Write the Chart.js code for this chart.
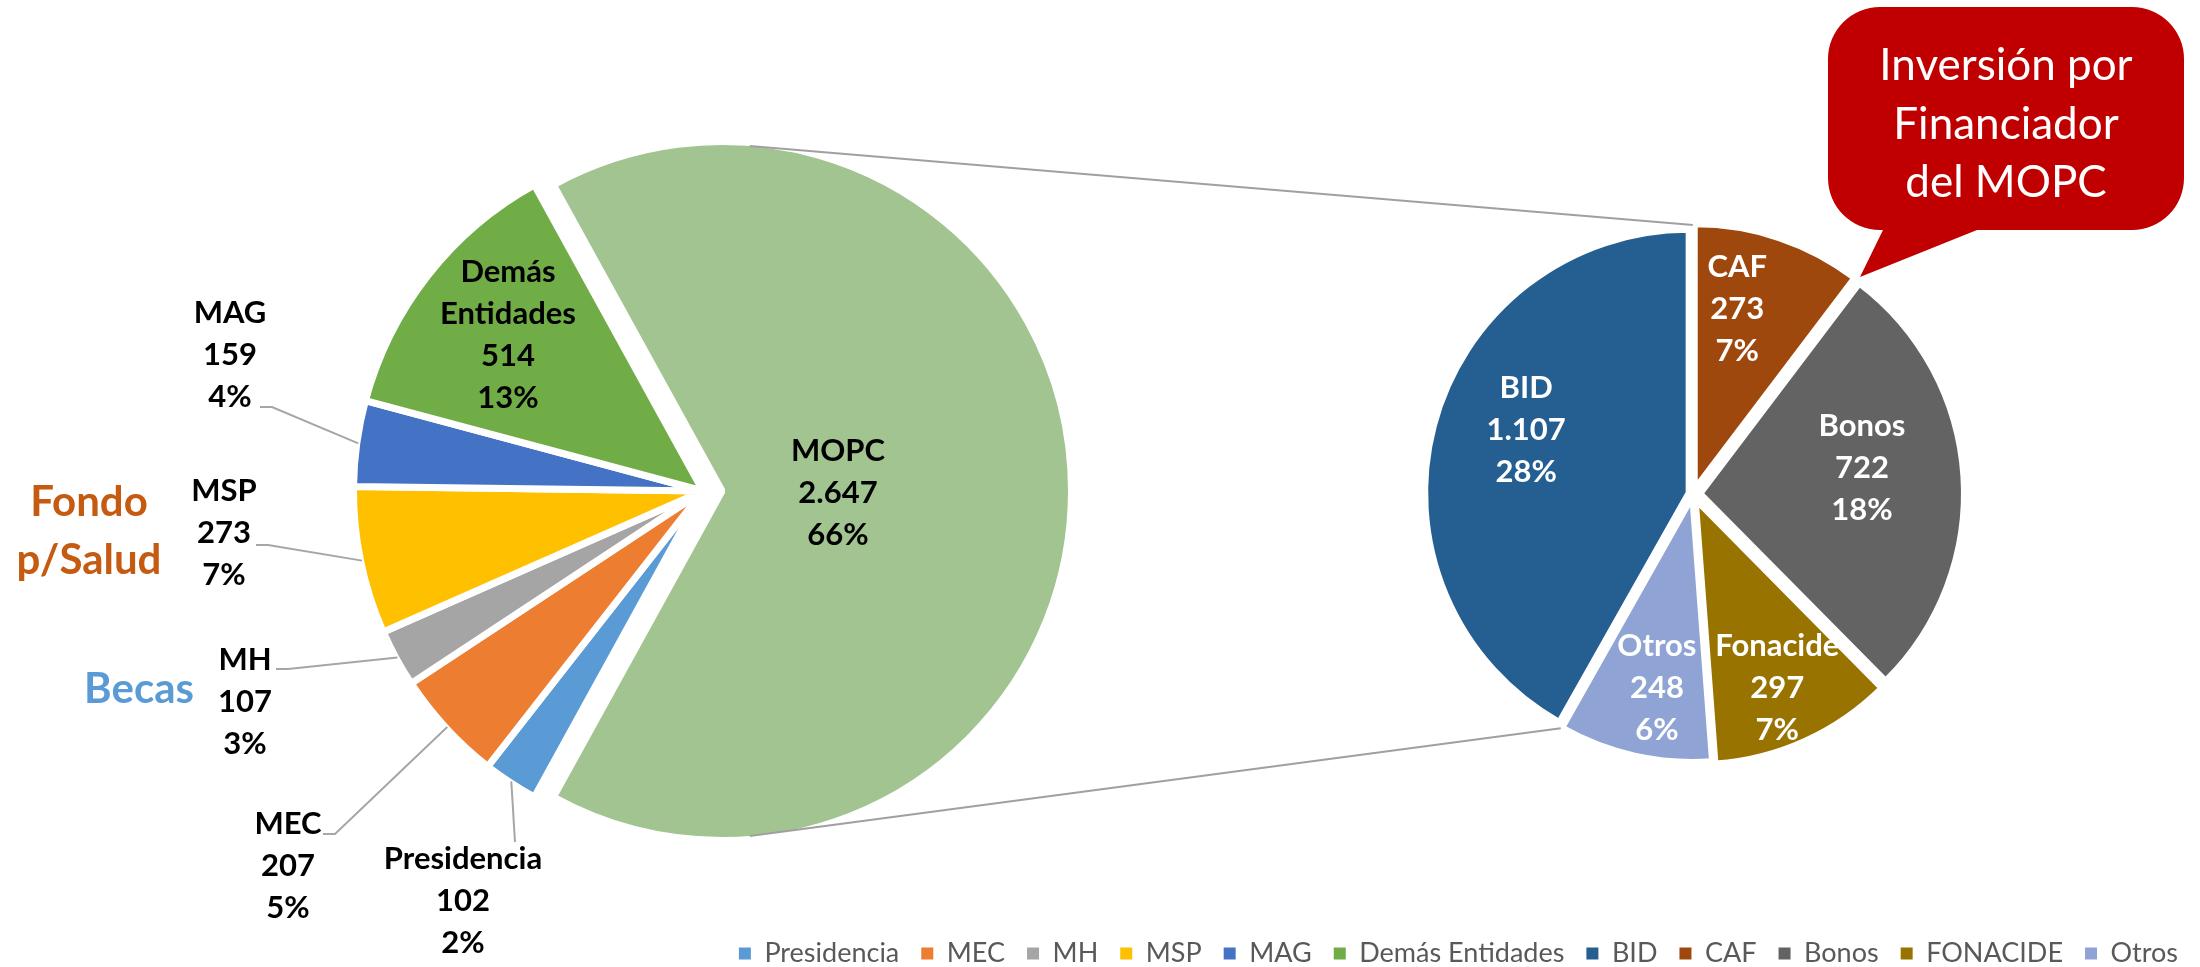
<!DOCTYPE html>
<html>
<head>
<meta charset="utf-8">
<script src="https://cdn.jsdelivr.net/npm/chart.js@4.4.0/dist/chart.umd.min.js"></script>
<style>
  html, body { margin: 0; padding: 0; background: #ffffff; }
  #wrap { position: relative; width: 2200px; height: 967px; overflow: hidden; font-family: Lato, "Open Sans", sans-serif; }
  #wrap canvas { position: absolute; left: 0; top: 0; }
  .note { position: absolute; font-family: Lato, sans-serif; font-weight: 700; font-size: 42px; line-height: 58px;
          text-align: center; transform: translate(-50%, -50%); white-space: nowrap; }
  #callout { position: absolute; left: 0; top: 0; }
</style>
</head>
<body>
<div id="wrap">
  <canvas id="leftPie" width="2200" height="967"></canvas>
  <canvas id="rightPie" width="2200" height="967"></canvas>
  <div class="note" style="left:89px;top:529px;color:#C55A11">Fondo<br>p/Salud</div>
  <div class="note" style="left:139px;top:687px;color:#5B9BD5">Becas</div>
  <svg id="callout" width="2200" height="300" viewBox="0 0 2200 300">
    <path d="M 1880 7 H 2132 A 52 52 0 0 1 2184 59 V 178 A 52 52 0 0 1 2132 230 H 1977 L 1860 277 L 1883 230 H 1880 A 52 52 0 0 1 1828 178 V 59 A 52 52 0 0 1 1880 7 Z" fill="#C00000"/>
    <g font-family="Lato, sans-serif" font-size="44" fill="#ffffff" text-anchor="middle" dominant-baseline="central">
      <text x="2006" y="63">Inversión por</text>
      <text x="2006" y="122">Financiador</text>
      <text x="2006" y="180">del MOPC</text>
    </g>
  </svg>
</div>
<script>
// ---------------- DATA ----------------
const leftCategories = ['Presidencia', 'MEC', 'MH', 'MSP', 'MAG', 'Demás Entidades', 'MOPC'];
const leftValues     = [102, 207, 107, 273, 159, 514, 2647];
const leftPercents   = [2, 5, 3, 7, 4, 13, 66];
const leftLabelNames = ['Presidencia', 'MEC', 'MH', 'MSP', 'MAG', 'Demás\nEntidades', 'MOPC'];
const splitCategory  = 'MOPC';

const rightCategories = ['BID', 'CAF', 'Bonos', 'FONACIDE', 'Otros'];
const rightValues     = [1107, 273, 722, 297, 248];
const rightPercents   = [28, 7, 18, 7, 6];
const rightLabelNames = ['BID', 'CAF', 'Bonos', 'Fonacide', 'Otros'];

// ---------------- STYLE ----------------
const leftColors  = ['#5B9BD5', '#ED7D31', '#A5A5A5', '#FFC000', '#4472C4', '#70AD47', '#A1C490'];
const rightColors = ['#255E91', '#9E480E', '#636363', '#997300', '#8FA4D4'];

const LEFT_CENTER  = { x: 703, y: 491, r: 346, border: 7 };
const RIGHT_CENTER = { x: 1693, y: 494, r: 260, border: 5 };
const leftExplode  = [0, 0, 0, 0, 0, 0, 19];
const rightExplode = [5, 7, 8, 8, 5];

// label placement relative to the slice centre; leader: [anchorDx, anchorDy, elbowLength]
const leftLabelLayout = [
  { dx: -240, dy: 410, leader: [52, -59, 0] },
  { dx: -415, dy: 375, leader: [35, -32, 12] },
  { dx: -458, dy: 211, leader: [31, -33, 12] },
  { dx: -479, dy: 42,  leader: [32, 12, 12] },
  { dx: -473, dy: -136, leader: [30, 52, 12] },
  { dx: -195, dy: -156 },
  { dx: 116,  dy: 2 }
];
const rightLabelLayout = [
  { dx: -162, dy: -63 },
  { dx: 42,   dy: -178 },
  { dx: 161,  dy: -25 },
  { dx: 81,   dy: 187 },
  { dx: -35,  dy: 189 }
];

const fmt = v => String(v).replace(/\B(?=(\d{3})+(?!\d))/g, '.');
const sum = a => a.reduce((s, v) => s + v, 0);

// ---------------- PLUGINS ----------------
const placePie = {
  id: 'placePie',
  afterLayout(chart, args, o) {
    const r = o.r + o.border / 2;
    chart.chartArea = { left: o.x - r, right: o.x + r, top: o.y - r, bottom: o.y + r, width: 2 * r, height: 2 * r };
  }
};

// moves exploded slices outward along their mid angle (true pixel distance)
const explode = {
  id: 'explode',
  afterDatasetsUpdate(chart, args, o) {
    chart.getDatasetMeta(0).data.forEach((arc, i) => {
      const d = o.dist[i] || 0;
      if (!d) return;
      const mid = (arc.startAngle + arc.endAngle) / 2;
      arc.x += Math.cos(mid) * d;
      arc.y += Math.sin(mid) * d;
    });
  }
};

const sliceLabels = {
  id: 'sliceLabels',
  afterDatasetsDraw(chart, args, o) {
    const ctx = chart.ctx;
    const meta = chart.getDatasetMeta(0);
    const ds = chart.data.datasets[0];
    ctx.save();
    ctx.font = 'bold ' + o.size + 'px Lato';
    ctx.textAlign = 'center';
    ctx.textBaseline = 'middle';
    meta.data.forEach((arc, i) => {
      const p = arc.getProps(['x', 'y', 'startAngle', 'endAngle', 'outerRadius'], true);
      const L = o.layout[i];
      const lx = p.x + L.dx, ly = p.y + L.dy;
      if (L.leader) {
        const mid = (p.startAngle + p.endAngle) / 2;
        const r = p.outerRadius - ds.borderWidth / 2 + 2;
        const ax = p.x + Math.cos(mid) * r, ay = p.y + Math.sin(mid) * r;
        const ex = lx + L.leader[0], ey = ly + L.leader[1];
        ctx.strokeStyle = '#A6A6A6';
        ctx.lineWidth = 2;
        ctx.beginPath();
        ctx.moveTo(ex, ey);
        if (L.leader[2]) ctx.lineTo(ex + L.leader[2], ey);
        ctx.lineTo(ax, ay);
        ctx.stroke();
      }
      const lines = o.names[i].split('\n').concat([fmt(ds.data[i]), o.pcts[i] + '%']);
      ctx.fillStyle = o.color;
      const n = lines.length;
      lines.forEach((t, k) => ctx.fillText(t, lx, ly + (k - (n - 1) / 2) * o.lineHeight));
    });
    ctx.restore();
  }
};

// ---------------- LEFT PIE ----------------
const mopcIndex = leftCategories.indexOf(splitCategory);
const mopcFrac = leftValues[mopcIndex] / sum(leftValues);

const legendNames = leftCategories.filter(c => c !== splitCategory).concat(rightCategories);
const legendColors = leftColors.filter((c, i) => leftCategories[i] !== splitCategory).concat(rightColors);

const leftChart = new Chart(document.getElementById('leftPie'), {
  type: 'pie',
  data: {
    labels: leftCategories,
    datasets: [{
      data: leftValues,
      backgroundColor: leftColors,
      borderColor: '#ffffff',
      borderWidth: LEFT_CENTER.border,
      clip: false
    }]
  },
  options: {
    responsive: false,
    animation: false,
    events: [],
    rotation: 90 + 180 * mopcFrac,
    radius: LEFT_CENTER.r + LEFT_CENTER.border / 2,
    layout: { padding: { bottom: -10 } },
    plugins: {
      tooltip: { enabled: false },
      placePie: LEFT_CENTER,
      explode: { dist: leftExplode },
      sliceLabels: { layout: leftLabelLayout, names: leftLabelNames, pcts: leftPercents, color: '#000000', size: 31, lineHeight: 42 },
      legend: {
        display: true,
        position: 'bottom',
        align: 'end',
        labels: {
          font: { family: 'Lato', size: 27 },
          color: '#595959',
          boxWidth: 12,
          boxHeight: 12,
          padding: 22,
          generateLabels: () => legendNames.map((t, i) => ({
            text: t, fillStyle: legendColors[i], strokeStyle: legendColors[i], lineWidth: 0,
            hidden: false, index: i, fontColor: '#595959'
          }))
        }
      }
    }
  },
  plugins: [placePie, explode, sliceLabels]
});

// ---------------- RIGHT PIE ----------------
const bidFrac = rightValues[0] / sum(rightValues);

const connectors = {
  id: 'connectors',
  beforeDatasetsDraw(chart) {
    const ctx = chart.ctx;
    const lp = leftChart.getDatasetMeta(0).data[mopcIndex].getProps(['x', 'y'], true);
    const mr = LEFT_CENTER.r;
    const first = chart.getDatasetMeta(0).data[0].getProps(['startAngle', 'endAngle'], true);
    const cx = RIGHT_CENTER.x, cy = RIGHT_CENTER.y;
    const rr = RIGHT_CENTER.r + 9;
    const tilt = 85.4 * Math.PI / 180;
    const pts = [
      [lp.x + mr * Math.cos(-tilt), lp.y + mr * Math.sin(-tilt), cx + rr * Math.cos(first.endAngle), cy + rr * Math.sin(first.endAngle)],
      [lp.x + mr * Math.cos(tilt), lp.y + mr * Math.sin(tilt), cx + rr * Math.cos(first.startAngle), cy + rr * Math.sin(first.startAngle)]
    ];
    ctx.save();
    ctx.strokeStyle = '#A0A0A0';
    ctx.lineWidth = 2;
    pts.forEach(q => { ctx.beginPath(); ctx.moveTo(q[0], q[1]); ctx.lineTo(q[2], q[3]); ctx.stroke(); });
    ctx.restore();
  }
};

new Chart(document.getElementById('rightPie'), {
  type: 'pie',
  data: {
    labels: rightCategories,
    datasets: [{
      data: rightValues,
      backgroundColor: rightColors,
      borderColor: '#ffffff',
      borderWidth: RIGHT_CENTER.border,
      clip: false
    }]
  },
  options: {
    responsive: false,
    animation: false,
    events: [],
    rotation: -360 * bidFrac,
    radius: RIGHT_CENTER.r + RIGHT_CENTER.border / 2,
    plugins: {
      tooltip: { enabled: false },
      legend: { display: false },
      placePie: RIGHT_CENTER,
      explode: { dist: rightExplode },
      sliceLabels: { layout: rightLabelLayout, names: rightLabelNames, pcts: rightPercents, color: '#ffffff', size: 31, lineHeight: 42 }
    }
  },
  plugins: [placePie, explode, connectors, sliceLabels]
});
</script>
</body>
</html>
